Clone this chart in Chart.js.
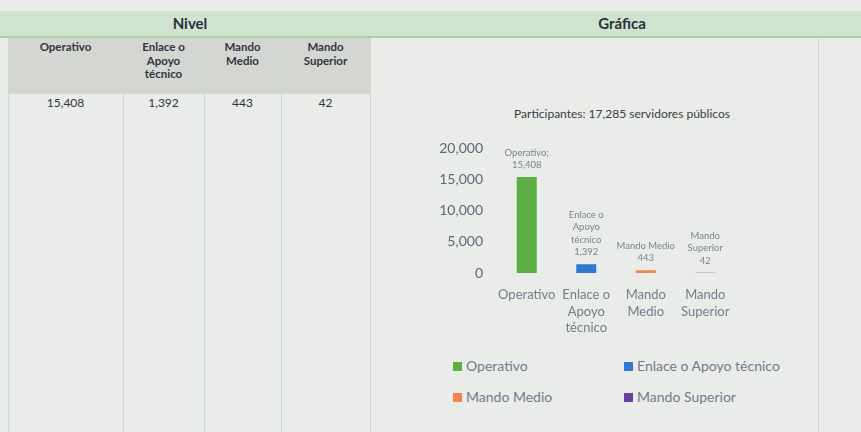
<!DOCTYPE html>
<html lang="es">
<head>
<meta charset="utf-8">
<title>Nivel - Gráfica</title>
<script src="https://cdn.jsdelivr.net/npm/chart.js@4.4.1/dist/chart.umd.min.js"></script>
<style>
  html, body { margin: 0; padding: 0; }
  body {
    width: 861px; height: 432px; position: relative; overflow: hidden;
    background: #e9ece8;
    font-family: Lato, 'Liberation Sans', sans-serif;
  }
  .banda {
    position: absolute; left: 0; top: 11px; width: 861px; height: 25px;
    background: #cfe4d0; border-bottom: 2px solid #a9d39a;
  }
  .banda span {
    position: absolute; top: 3px; font-weight: bold; font-size: 15px; color: #2c3038;
    transform: translateX(-50%);
  }
  .encabezado {
    position: absolute; left: 8px; top: 38px; width: 362px; height: 56px;
    background: #d4d6d2;
  }
  .col {
    position: absolute; top: 38px; bottom: 0; border-left: 1px solid #cfd9cf;
  }
  .celda {
    position: absolute; text-align: center; transform: translateX(-50%);
    color: #303540; white-space: nowrap;
  }
  .cab { top: 40px; font-weight: bold; font-size: 11.5px; line-height: 13.5px; }
  .val { top: 95px; font-size: 12px; }
  #titulo {
    position: absolute; left: 622px; top: 106px; transform: translateX(-50%);
    font-size: 12px; color: #3a3d44; white-space: nowrap;
  }
  #grafica { position: absolute; left: 420px; top: 126px; }
  #leyenda { position: absolute; left: 453px; top: 357px; width: 360px; }
  .item {
    position: absolute; font-size: 14px; color: #737a8c; white-space: nowrap;
  }
  .item i {
    display: inline-block; width: 9px; height: 9px; margin-right: 4px;
    vertical-align: 0px;
  }
</style>
</head>
<body>
<div class="banda"><span style="left:190px">Nivel</span><span style="left:622px">Gráfica</span></div>
<div class="encabezado"></div>
<div id="tabla"></div>
<div id="titulo">Participantes: 17,285 servidores públicos</div>
<canvas id="grafica" width="330" height="212"></canvas>
<div id="leyenda"></div>

<script>
// Datos
const categorias = ['Operativo', 'Enlace o Apoyo técnico', 'Mando Medio', 'Mando Superior'];
const valores = [15408, 1392, 443, 42];
const encabezados = [['Operativo'], ['Enlace o', 'Apoyo', 'técnico'], ['Mando', 'Medio'], ['Mando', 'Superior']];
const etiquetasEje = [['Operativo'], ['Enlace o', 'Apoyo', 'técnico'], ['Mando', 'Medio'], ['Mando', 'Superior']];
const etiquetasDatos = [['Operativo;'], ['Enlace o', 'Apoyo', 'técnico'], ['Mando Medio'], ['Mando', 'Superior']];
const ticksY = [0, 5000, 10000, 15000, 20000];
const colores = ['#5cae45', '#2f79d2', '#f2844f', '#6c3fa3'];

const fmt = v => v.toLocaleString('en-US');

// Tabla (columnas de la hoja)
const bordes = [8, 123, 204, 281, 370, 818];
const tabla = document.getElementById('tabla');
bordes.forEach(x => {
  const d = document.createElement('div');
  d.className = 'col';
  d.style.left = x + 'px';
  tabla.appendChild(d);
});
encabezados.forEach((lineas, i) => {
  const cx = (bordes[i] + bordes[i + 1]) / 2;
  const h = document.createElement('div');
  h.className = 'celda cab';
  h.style.left = cx + 'px';
  h.innerHTML = lineas.join('<br>');
  tabla.appendChild(h);
  const v = document.createElement('div');
  v.className = 'celda val';
  v.style.left = cx + 'px';
  v.textContent = fmt(valores[i]);
  tabla.appendChild(v);
});

// Leyenda en dos columnas
const leyenda = document.getElementById('leyenda');
categorias.forEach((c, i) => {
  const it = document.createElement('div');
  it.className = 'item';
  it.style.left = (i % 2) * 171 + 'px';
  it.style.top = Math.floor(i / 2) * 31 + 'px';
  it.innerHTML = `<i style="background:${colores[i]}"></i>${c}`;
  leyenda.appendChild(it);
});

// Etiquetas de datos encima de cada barra
const etiquetasBarras = {
  id: 'etiquetasBarras',
  afterDatasetsDraw(chart) {
    const ctx = chart.ctx;
    ctx.save();
    ctx.font = "9.5px Lato, sans-serif";
    ctx.fillStyle = '#7d828e';
    ctx.textAlign = 'center';
    ctx.textBaseline = 'middle';
    chart.data.datasets.forEach((ds, i) => {
      const meta = chart.getDatasetMeta(i);
      meta.data.forEach((el, j) => {
        if (ds.data[j] == null) return;
        const lineas = etiquetasDatos[i].concat([fmt(ds.data[j])]);
        const base = el.y - 12;
        lineas.slice().reverse().forEach((t, k) => {
          ctx.fillText(t, el.x, base - k * 12.5);
        });
      });
    });
    ctx.restore();
  }
};

const ctx = document.getElementById('grafica').getContext('2d');
new Chart(ctx, {
  type: 'bar',
  data: {
    labels: etiquetasEje,
    datasets: categorias.map((c, i) => ({
      label: c,
      data: valores.map((v, j) => (j === i ? v : null)),
      backgroundColor: colores[i],
      skipNull: true,
      barPercentage: 0.42,
      categoryPercentage: 0.8,
    })),
  },
  options: {
    responsive: false,
    animation: false,
    layout: { padding: { top: 14, right: 15, bottom: 4, left: 0 } },
    plugins: {
      legend: { display: false },
      tooltip: { enabled: false },
    },
    scales: {
      x: {
        afterFit(scale) { scale.height = 61; },
        grid: { display: false, drawTicks: false },
        border: { display: false },
        ticks: {
          padding: 14,
          color: '#747c8e',
          font: { family: 'Lato, sans-serif', size: 13, lineHeight: 1.25 },
          maxRotation: 0,
          autoSkip: false,
        },
      },
      y: {
        min: ticksY[0],
        max: ticksY[ticksY.length - 1],
        afterFit(scale) { scale.width = 77; },
        grid: { display: false, drawTicks: false },
        border: { display: false },
        ticks: {
          stepSize: ticksY[1] - ticksY[0],
          padding: 14,
          color: '#5f6778',
          font: { family: 'Lato, sans-serif', size: 14 },
          callback: v => fmt(v),
        },
      },
    },
  },
  plugins: [etiquetasBarras],
});
</script>
</body>
</html>
